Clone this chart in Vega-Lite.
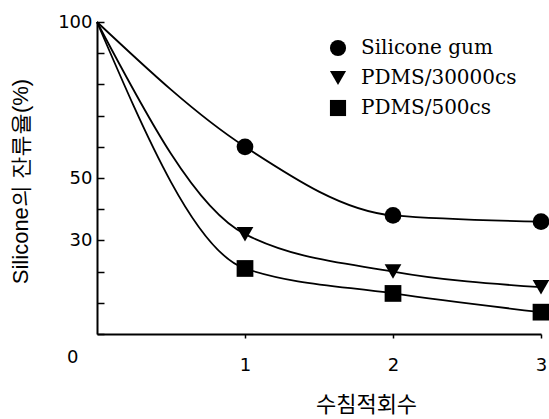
{
  "$schema": "https://vega.github.io/schema/vega-lite/v6.json",
  "width": 444,
  "height": 312,
  "autosize": "none",
  "padding": {"left": 97, "top": 22, "right": 8, "bottom": 85},
  "background": "white",
  "config": {
    "view": {"stroke": null},
    "axis": {"domainColor": "black", "domainWidth": 2, "tickColor": "black", "tickWidth": 1.5, "grid": false, "labelColor": "black", "titleColor": "black", "labelFont": "DejaVu Sans", "titleFont": "Noto Sans CJK KR"}
  },
  "data": {
    "values": [
      {"n": 0, "series": "Silicone gum", "v": 100},
      {"n": 1, "series": "Silicone gum", "v": 60},
      {"n": 2, "series": "Silicone gum", "v": 38},
      {"n": 3, "series": "Silicone gum", "v": 36},
      {"n": 0, "series": "PDMS/30000cs", "v": 100},
      {"n": 1, "series": "PDMS/30000cs", "v": 32},
      {"n": 2, "series": "PDMS/30000cs", "v": 20},
      {"n": 3, "series": "PDMS/30000cs", "v": 15},
      {"n": 0, "series": "PDMS/500cs", "v": 100},
      {"n": 1, "series": "PDMS/500cs", "v": 21},
      {"n": 2, "series": "PDMS/500cs", "v": 13},
      {"n": 3, "series": "PDMS/500cs", "v": 7}
    ]
  },
  "encoding": {
    "x": {
      "field": "n", "type": "quantitative",
      "scale": {"domain": [0, 3], "nice": false, "zero": false},
      "axis": {
        "values": [1, 2, 3], "tickSize": 4, "labelPadding": 18, "labelFlush": false,
        "labelFontSize": 18, "title": "수침적회수", "titleFontSize": 22, "titleFontWeight": "normal",
        "titleX": 269, "titleY": 70, "titleAlign": "center", "titleBaseline": "middle"
      }
    },
    "y": {
      "field": "v", "type": "quantitative",
      "scale": {"domain": [0, 100], "nice": false},
      "axis": {
        "values": [0, 10, 20, 30, 40, 50, 60, 70, 80, 90, 100],
        "tickSize": -7,
        "labelExpr": "(datum.value == 0 || datum.value == 30 || datum.value == 50 || datum.value == 100) ? datum.label : ''",
        "labelPadding": {"condition": {"test": "datum.value == 0", "value": 26}, "value": 12},
        "labelOffset": {"condition": {"test": "datum.value == 0", "value": 23}, "value": 0},
        "labelFontSize": 18,
        "title": "Silicone의   잔류율(%)", "titleFont": "Liberation Sans", "titleFontSize": 22, "titleFontWeight": "normal",
        "titleAngle": -90, "titleX": -77, "titleY": 159, "titleAlign": "center", "titleBaseline": "middle"
      }
    }
  },
  "layer": [
    {
      "mark": {"type": "line", "interpolate": "monotone", "color": "black", "strokeWidth": 1.8},
      "encoding": {"detail": {"field": "series"}}
    },
    {
      "transform": [{"filter": "datum.n > 0"}],
      "mark": {"type": "point", "filled": true, "color": "black", "opacity": 1, "size": 280},
      "encoding": {
        "shape": {
          "field": "series", "type": "nominal",
          "scale": {"domain": ["Silicone gum", "PDMS/30000cs", "PDMS/500cs"], "range": ["circle", "triangle-down", "square"]},
          "legend": {
            "orient": "none", "legendX": 231, "legendY": 16, "title": null,
            "labelFont": "DejaVu Serif", "labelFontSize": 20, "labelColor": "black",
            "symbolFillColor": "black", "symbolStrokeColor": "black", "symbolSize": 260, "symbolOpacity": 1,
            "labelOffset": 13, "rowPadding": 8, "padding": 0
          }
        }
      }
    }
  ]
}
